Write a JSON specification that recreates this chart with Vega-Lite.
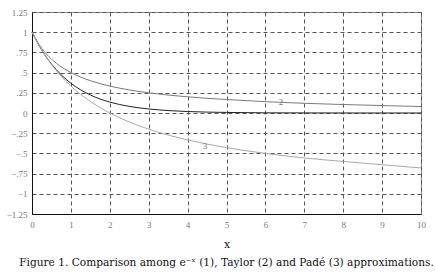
{
  "$schema": "https://vega.github.io/schema/vega-lite/v6.json",
  "autosize": "none",
  "width": 389,
  "height": 202,
  "padding": {"left": 32, "top": 12, "right": 14, "bottom": 65},
  "background": "white",
  "config": {
    "view": {"stroke": "#888", "strokeWidth": 1},
    "font": "Liberation Serif"
  },
  "title": {
    "text": "Figure 1. Comparison among e⁻ˣ (1), Taylor (2) and Padé (3) approximations.",
    "orient": "bottom",
    "anchor": "middle",
    "font": "DejaVu Serif",
    "fontSize": 10.6,
    "fontWeight": "normal",
    "color": "#111",
    "offset": 9
  },
  "datasets": {
    "curves": [
      {"x": 0, "y": 1, "c": "1"}, {"x": 0.25, "y": 0.779, "c": "1"}, {"x": 0.5, "y": 0.607, "c": "1"}, {"x": 0.75, "y": 0.472, "c": "1"}, {"x": 1, "y": 0.368, "c": "1"}, {"x": 1.5, "y": 0.223, "c": "1"}, {"x": 2, "y": 0.135, "c": "1"}, {"x": 2.5, "y": 0.082, "c": "1"}, {"x": 3, "y": 0.05, "c": "1"}, {"x": 3.5, "y": 0.03, "c": "1"}, {"x": 4, "y": 0.018, "c": "1"}, {"x": 5, "y": 0.007, "c": "1"}, {"x": 6, "y": 0.002, "c": "1"}, {"x": 7, "y": 0.001, "c": "1"}, {"x": 8, "y": 0.0003, "c": "1"}, {"x": 9, "y": 0.0001, "c": "1"}, {"x": 10, "y": 0.00005, "c": "1"},
      {"x": 0, "y": 1, "c": "2"}, {"x": 0.25, "y": 0.8, "c": "2"}, {"x": 0.5, "y": 0.667, "c": "2"}, {"x": 0.75, "y": 0.571, "c": "2"}, {"x": 1, "y": 0.5, "c": "2"}, {"x": 1.5, "y": 0.4, "c": "2"}, {"x": 2, "y": 0.333, "c": "2"}, {"x": 2.5, "y": 0.286, "c": "2"}, {"x": 3, "y": 0.25, "c": "2"}, {"x": 3.5, "y": 0.222, "c": "2"}, {"x": 4, "y": 0.2, "c": "2"}, {"x": 5, "y": 0.167, "c": "2"}, {"x": 6, "y": 0.14, "c": "2"}, {"x": 7, "y": 0.12, "c": "2"}, {"x": 8, "y": 0.105, "c": "2"}, {"x": 9, "y": 0.092, "c": "2"}, {"x": 10, "y": 0.08, "c": "2"},
      {"x": 0, "y": 1, "c": "3"}, {"x": 0.25, "y": 0.778, "c": "3"}, {"x": 0.5, "y": 0.6, "c": "3"}, {"x": 0.75, "y": 0.455, "c": "3"}, {"x": 1, "y": 0.333, "c": "3"}, {"x": 1.5, "y": 0.143, "c": "3"}, {"x": 2, "y": 0, "c": "3"}, {"x": 2.5, "y": -0.111, "c": "3"}, {"x": 3, "y": -0.2, "c": "3"}, {"x": 3.5, "y": -0.273, "c": "3"}, {"x": 4, "y": -0.333, "c": "3"}, {"x": 5, "y": -0.429, "c": "3"}, {"x": 6, "y": -0.5, "c": "3"}, {"x": 7, "y": -0.556, "c": "3"}, {"x": 8, "y": -0.6, "c": "3"}, {"x": 9, "y": -0.64, "c": "3"}, {"x": 10, "y": -0.68, "c": "3"}
    ],
    "labels": [
      {"x": 6.4, "y": 0.14, "t": "2"},
      {"x": 4.45, "y": -0.41, "t": "3"}
    ]
  },
  "encoding": {
    "x": {
      "field": "x", "type": "quantitative",
      "scale": {"domain": [0, 10], "nice": false},
      "axis": {
        "values": [0, 1, 2, 3, 4, 5, 6, 7, 8, 9, 10],
        "tickCount": 11,
        "labelOverlap": false,
        "labelFlush": false,
        "title": "x",
        "titleFont": "DejaVu Serif",
        "titleFontSize": 11,
        "titleFontWeight": "normal",
        "titleColor": "#222",
        "titlePadding": 9,
        "labelFont": "Liberation Serif",
        "labelFontSize": 9,
        "labelColor": "#777",
        "labelPadding": 6,
        "ticks": false,
        "domainColor": "#111",
        "grid": true,
        "gridDash": [4, 3],
        "gridColor": "#555",
        "gridOpacity": 1
      }
    },
    "y": {
      "field": "y", "type": "quantitative",
      "scale": {"domain": [-1.25, 1.25], "nice": false},
      "axis": {
        "values": [-1.25, -1, -0.75, -0.5, -0.25, 0, 0.25, 0.5, 0.75, 1, 1.25],
        "tickCount": 11,
        "labelOverlap": false,
        "labelFlush": false,
        "labelExpr": "datum.value == 0 ? '0' : replace(format(datum.value, '.2~f'), '0.', '.')",
        "title": null,
        "labelFont": "Liberation Serif",
        "labelFontSize": 9,
        "labelColor": "#777",
        "labelPadding": 5,
        "ticks": false,
        "domainColor": "#111",
        "grid": true,
        "gridDash": [4, 3],
        "gridColor": "#555",
        "gridOpacity": 1
      }
    }
  },
  "layer": [
    {
      "data": {"name": "curves"},
      "mark": {"type": "line", "strokeWidth": 1, "interpolate": "monotone"},
      "encoding": {
        "color": {
          "field": "c", "type": "nominal",
          "scale": {"domain": ["1", "2", "3"], "range": ["#222222", "#7a7a7a", "#a8a8a8"]},
          "legend": null
        }
      }
    },
    {
      "data": {"name": "labels"},
      "mark": {"type": "text", "font": "Liberation Serif", "fontSize": 9, "color": "#777"},
      "encoding": {
        "text": {"field": "t"}
      }
    }
  ]
}
